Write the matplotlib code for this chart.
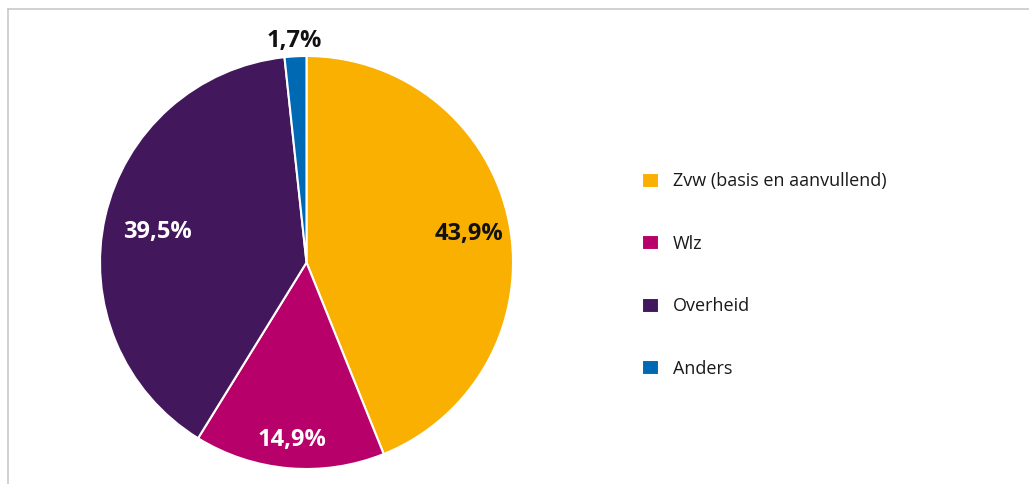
import matplotlib

matplotlib.use("Agg")
import matplotlib.pyplot as plt
import numpy as np
from matplotlib.lines import Line2D

# Financing shares (percent)
categories = ["Zvw (basis en aanvullend)", "Wlz", "Overheid", "Anders"]
shares = [43.9, 14.9, 39.5, 1.7]
share_labels = ["43,9%", "14,9%", "39,5%", "1,7%"]
colors = ["#F9B000", "#B8006A", "#42175C", "#0069B4"]
label_colors = ["#111111", "white", "white", "#111111"]

W, H = 1029, 484
fig = plt.figure(figsize=(W / 100, H / 100), dpi=100)

# thin grey frame along the top and left edge
fig.add_artist(Line2D([7.5 / W, 7.5 / W], [0, 1 - 9 / H], color="#C9C9C9", lw=1.2))
fig.add_artist(Line2D([7.5 / W, 1], [1 - 9 / H, 1 - 9 / H], color="#C9C9C9", lw=1.2))

# pie: centre (306.5, 262.5) px, radius 206.5 px
cx, cy, r = 306.5, 262.5, 206.5
ax = fig.add_axes([(cx - r) / W, (H - cy - r) / H, 2 * r / W, 2 * r / H])
wedges, _ = ax.pie(
    shares,
    colors=colors,
    startangle=90,
    counterclock=False,
    radius=1.0,
    wedgeprops=dict(edgecolor="white", linewidth=1.5),
)
ax.set_xlim(-1, 1)
ax.set_ylim(-1, 1)
ax.set_aspect("equal")
ax.axis("off")

# value labels, radial distance per slice
label_dist = [0.80, 0.85, 0.74, 1.09]
start = 90.0
for w, txt, col, d, val in zip(wedges, share_labels, label_colors, label_dist, shares):
    mid = np.deg2rad(start - val * 3.6 / 2)
    start -= val * 3.6
    ax.text(
        d * np.cos(mid),
        d * np.sin(mid),
        txt,
        ha="center",
        va="center_baseline",
        color=col,
        fontsize=17,
        fontweight="bold",
        family="Open Sans",
        clip_on=False,
    )

fig.legend(
    wedges,
    categories,
    loc="upper left",
    bbox_to_anchor=(626 / W, 1 - 156 / H),
    frameon=False,
    handlelength=0.9,
    handleheight=0.9,
    handletextpad=0.8,
    labelspacing=2.47,
    prop=dict(family="Open Sans", size=13),
    labelcolor="#1a1a1a",
)

fig.savefig("out.png", dpi=100, facecolor="white")
